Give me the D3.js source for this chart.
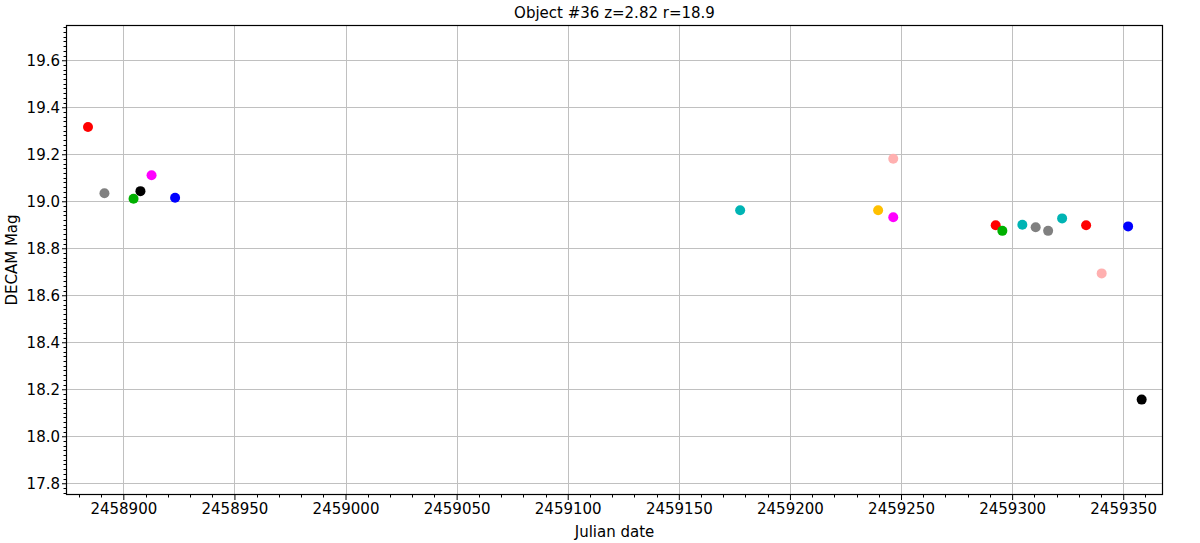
<!DOCTYPE html>
<html lang="en">
  <head>
    <meta charset="utf-8" />
    <title>Object #36 light curve</title>
    <script src="https://cdnjs.cloudflare.com/ajax/libs/d3/7.8.5/d3.min.js"></script>
    <style type="text/css">
      body {
        margin: 0;
        background: #fff;
      }
      text {
        font-family: "DejaVu Sans", sans-serif;
      }
      .grid line {
        stroke: #c0c0c0;
        stroke-width: 1;
      }
    </style>
  </head>

  <body>
    <script>
      // data
      const julianDate = [
        2458884.1, 2458891.5, 2458904.6, 2458907.7, 2458912.7, 2458923.3,
        2459177.6, 2459239.7, 2459246.5, 2459246.5,
        2459292.6, 2459295.6, 2459304.6, 2459310.6, 2459316.2, 2459322.5,
        2459333.3, 2459340.3, 2459352.2, 2459358.3
      ];
      const magnitude = [
        19.316, 19.034, 19.011, 19.043, 19.111, 19.015,
        18.962, 18.962, 19.181, 18.932,
        18.898, 18.874, 18.900, 18.889, 18.874, 18.927,
        18.898, 18.693, 18.893, 18.156
      ];
      const pointColor = [
        "#ff0000", "#808080", "#00b000", "#000000", "#ff00ff", "#0000ff",
        "#00b4b4", "#ffc000", "#ffb0b0", "#ff00ff",
        "#ff0000", "#00b000", "#00b4b4", "#808080", "#808080", "#00b4b4",
        "#ff0000", "#ffb0b0", "#0000ff", "#000000"
      ];
      const xTicks = [2458900, 2458950, 2459000, 2459050, 2459100, 2459150, 2459200, 2459250, 2459300, 2459350];
      const yTicks = [17.8, 18.0, 18.2, 18.4, 18.6, 18.8, 19.0, 19.2, 19.4, 19.6];
      const title = "Object #36 z=2.82 r=18.9";

      const width = 1200;
      const height = 543;
      const marginTop = 25;
      const marginRight = 37;
      const marginBottom = 48;
      const marginLeft = 66;

      const points = julianDate.map((d, i) => ({ jd: d, mag: magnitude[i], color: pointColor[i] }));

      const x = d3.scaleLinear()
        .domain([2458874.2, 2459367.9])
        .range([marginLeft, width - marginRight]);

      const y = d3.scaleLinear()
        .domain([17.75, 19.75])
        .range([height - marginBottom, marginTop]);

      const svg = d3.select("body")
        .append("svg")
        .attr("width", width)
        .attr("height", height)
        .attr("viewBox", [0, 0, width, height]);

      // grid
      svg.append("g")
        .attr("class", "grid")
        .selectAll("line")
        .data(xTicks)
        .join("line")
        .attr("x1", d => Math.round(x(d)) + 0.5)
        .attr("x2", d => Math.round(x(d)) + 0.5)
        .attr("y1", marginTop)
        .attr("y2", height - marginBottom);

      svg.append("g")
        .attr("class", "grid")
        .selectAll("line")
        .data(yTicks)
        .join("line")
        .attr("x1", marginLeft)
        .attr("x2", width - marginRight)
        .attr("y1", d => Math.round(y(d)) + 0.5)
        .attr("y2", d => Math.round(y(d)) + 0.5);

      // minor ticks
      const xMinor = d3.range(2458880, 2459368, 10).filter(v => v % 50 !== 0);
      svg.append("g")
        .selectAll("line")
        .data(xMinor)
        .join("line")
        .attr("x1", d => Math.round(x(d)) + 0.5)
        .attr("x2", d => Math.round(x(d)) + 0.5)
        .attr("y1", height - marginBottom)
        .attr("y2", height - marginBottom + 2.5)
        .attr("stroke", "#000");

      const yMinor = d3.range(17.76, 19.75, 0.02).filter(v => Math.abs(v * 5 - Math.round(v * 5)) > 1e-6);
      svg.append("g")
        .selectAll("line")
        .data(yMinor)
        .join("line")
        .attr("x1", marginLeft - 2.5)
        .attr("x2", marginLeft)
        .attr("y1", d => Math.round(y(d)) + 0.5)
        .attr("y2", d => Math.round(y(d)) + 0.5)
        .attr("stroke", "#000");

      // axes
      svg.append("g")
        .attr("transform", `translate(0, ${height - marginBottom})`)
        .call(d3.axisBottom(x).tickValues(xTicks).tickFormat(d3.format("d")).tickSize(5).tickPadding(3).tickSizeOuter(0))
        .call(g => g.select(".domain").remove())
        .call(g => g.selectAll("text").attr("font-size", 15).attr("fill", "#000").attr("font-family", "DejaVu Sans"));

      svg.append("g")
        .attr("transform", `translate(${marginLeft}, 0)`)
        .call(d3.axisLeft(y).tickValues(yTicks).tickFormat(d3.format(".1f")).tickSize(4).tickPadding(2).tickSizeOuter(0))
        .call(g => g.select(".domain").remove())
        .call(g => g.selectAll("text").attr("font-size", 15).attr("fill", "#000").attr("font-family", "DejaVu Sans"));

      // frame
      svg.append("rect")
        .attr("x", marginLeft + 0.5)
        .attr("y", marginTop + 0.5)
        .attr("width", width - marginLeft - marginRight - 1)
        .attr("height", height - marginTop - marginBottom - 1)
        .attr("fill", "none")
        .attr("stroke", "#000")
        .attr("stroke-width", 1.2);

      // points
      svg.append("g")
        .selectAll("circle")
        .data(points)
        .join("circle")
        .attr("cx", d => x(d.jd))
        .attr("cy", d => y(d.mag))
        .attr("r", 5)
        .attr("fill", d => d.color);

      // labels
      svg.append("text")
        .attr("x", (marginLeft + width - marginRight) / 2)
        .attr("y", 18)
        .attr("text-anchor", "middle")
        .attr("font-size", 15)
        .text(title);

      svg.append("text")
        .attr("x", (marginLeft + width - marginRight) / 2)
        .attr("y", 537)
        .attr("text-anchor", "middle")
        .attr("font-size", 15)
        .text("Julian date");

      svg.append("text")
        .attr("transform", `translate(17, ${(marginTop + height - marginBottom) / 2}) rotate(-90)`)
        .attr("text-anchor", "middle")
        .attr("font-size", 15)
        .text("DECAM Mag");
    </script>
  </body>
</html>
